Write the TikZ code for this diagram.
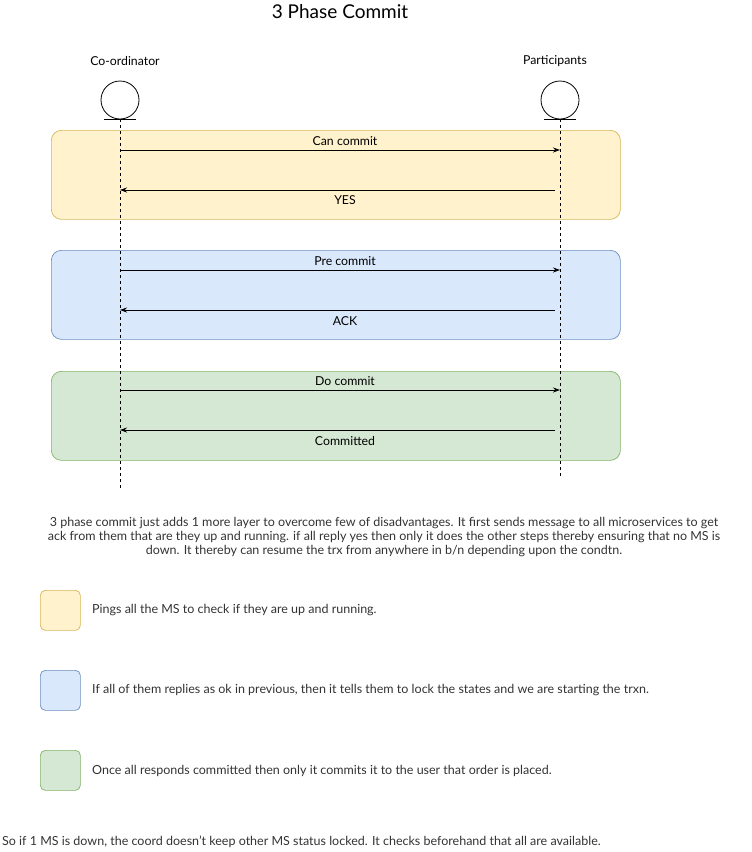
\documentclass[tikz,border=0pt]{standalone}
\usepackage{fontspec}
\setmainfont{Lato}
\usetikzlibrary{arrows.meta}
\definecolor{yfill}{HTML}{FFF2CC}\definecolor{ydraw}{HTML}{D6B656}
\definecolor{bfill}{HTML}{DAE8FC}\definecolor{bdraw}{HTML}{6C8EBF}
\definecolor{gfill}{HTML}{D5E8D4}\definecolor{gdraw}{HTML}{82B366}
\definecolor{txt}{HTML}{333333}
\begin{document}
\begin{tikzpicture}[x=1pt,y=-1pt,
  lbl/.style={font=\fontsize{12.3}{14}\selectfont, text=black, inner sep=0pt},
  msg/.style={draw=black, line width=0.8pt, -{Stealth[length=7pt,width=5pt]}},
  life/.style={draw=black, dashed, line width=0.8pt},
  phase/.style={rounded corners=10pt, line width=0.7pt},
  actor/.style={circle, draw=black, line width=0.8pt, minimum size=38pt, inner sep=0pt},
  legendbox/.style={rounded corners=5pt, line width=0.7pt},
  desc/.style={font=\fontsize{12.5}{14}\selectfont, text=txt, inner sep=0pt, anchor=west}]
\useasboundingbox (0,0) rectangle (752,852);
% title
\node[font=\fontsize{19}{22}\selectfont, inner sep=0pt] (title) at (340,12) {3 Phase Commit};
% phase boxes
\node[phase, fill=yfill, draw=ydraw, minimum width=569pt, minimum height=89pt, anchor=north west] (p1) at (51,130) {};
\node[phase, fill=bfill, draw=bdraw, minimum width=569pt, minimum height=89pt, anchor=north west] (p2) at (51,250) {};
\node[phase, fill=gfill, draw=gdraw, minimum width=569pt, minimum height=89pt, anchor=north west] (p3) at (51,371) {};
% actors
\node[lbl] (colbl) at (125,61) {Co-ordinator};
\node[lbl] (palbl) at (555,61) {Participants};
\node[actor] (co) at (120,100) {};
\node[actor] (pa) at (560,100) {};
\coordinate (cob) at (120,119);
\coordinate (pab) at (560,119);
\draw[line width=0.8pt] (104,119) -- (136,119);
\draw[line width=0.8pt] (544,119) -- (576,119);
\coordinate (coend) at (120,490);
\coordinate (paend) at (560,478);
\draw[life] (cob) -- (coend);
\draw[life] (pab) -- (paend);
% messages
\coordinate (c1) at (120,150); \coordinate (q1) at (560,150);
\coordinate (c2) at (120,190); \coordinate (q2) at (555,190);
\coordinate (c3) at (120,270); \coordinate (q3) at (560,270);
\coordinate (c4) at (120,310); \coordinate (q4) at (555,310);
\coordinate (c5) at (120,390); \coordinate (q5) at (560,390);
\coordinate (c6) at (120,430); \coordinate (q6) at (555,430);
\draw[msg] (c1) -- (q1);
\draw[msg] (q2) -- (c2);
\draw[msg] (c3) -- (q3);
\draw[msg] (q4) -- (c4);
\draw[msg] (c5) -- (q5);
\draw[msg] (q6) -- (c6);
\node[lbl] (m1) at (345,141) {Can commit};
\node[lbl] (m2) at (345,200) {YES};
\node[lbl] (m3) at (345,261) {Pre commit};
\node[lbl] (m4) at (345,321) {ACK};
\node[lbl] (m5) at (345,381) {Do commit};
\node[lbl] (m6) at (345,441) {Committed};
% paragraph
\node[font=\fontsize{12.5}{14}\selectfont, text=txt, inner sep=0pt, align=center] (para) at (384,537)
 {3 phase commit just adds 1 more layer to overcome few of disadvantages. It first sends message to all microservices to get\\
  ack from them that are they up and running. if all reply yes then only it does the other steps thereby ensuring that no MS is\\
  down. It thereby can resume the trx from anywhere in b/n depending upon the condtn.};
% legend
\node[legendbox, fill=yfill, draw=ydraw, minimum size=40pt, anchor=north west] (l1) at (40,590) {};
\node[legendbox, fill=bfill, draw=bdraw, minimum size=40pt, anchor=north west] (l2) at (40,670) {};
\node[legendbox, fill=gfill, draw=gdraw, minimum size=40pt, anchor=north west] (l3) at (40,750) {};
\node[desc] (d1) at (92,610) {Pings all the MS to check if they are up and running.};
\node[desc] (d2) at (92,690) {If all of them replies as ok in previous, then it tells them to lock the states and we are starting the trxn.};
\node[desc] (d3) at (92,771) {Once all responds committed then only it commits it to the user that order is placed.};
\node[desc] (d4) at (2,842) {So if 1 MS is down, the coord doesn't keep other MS status locked. It checks beforehand that all are available.};
\end{tikzpicture}
\end{document}
